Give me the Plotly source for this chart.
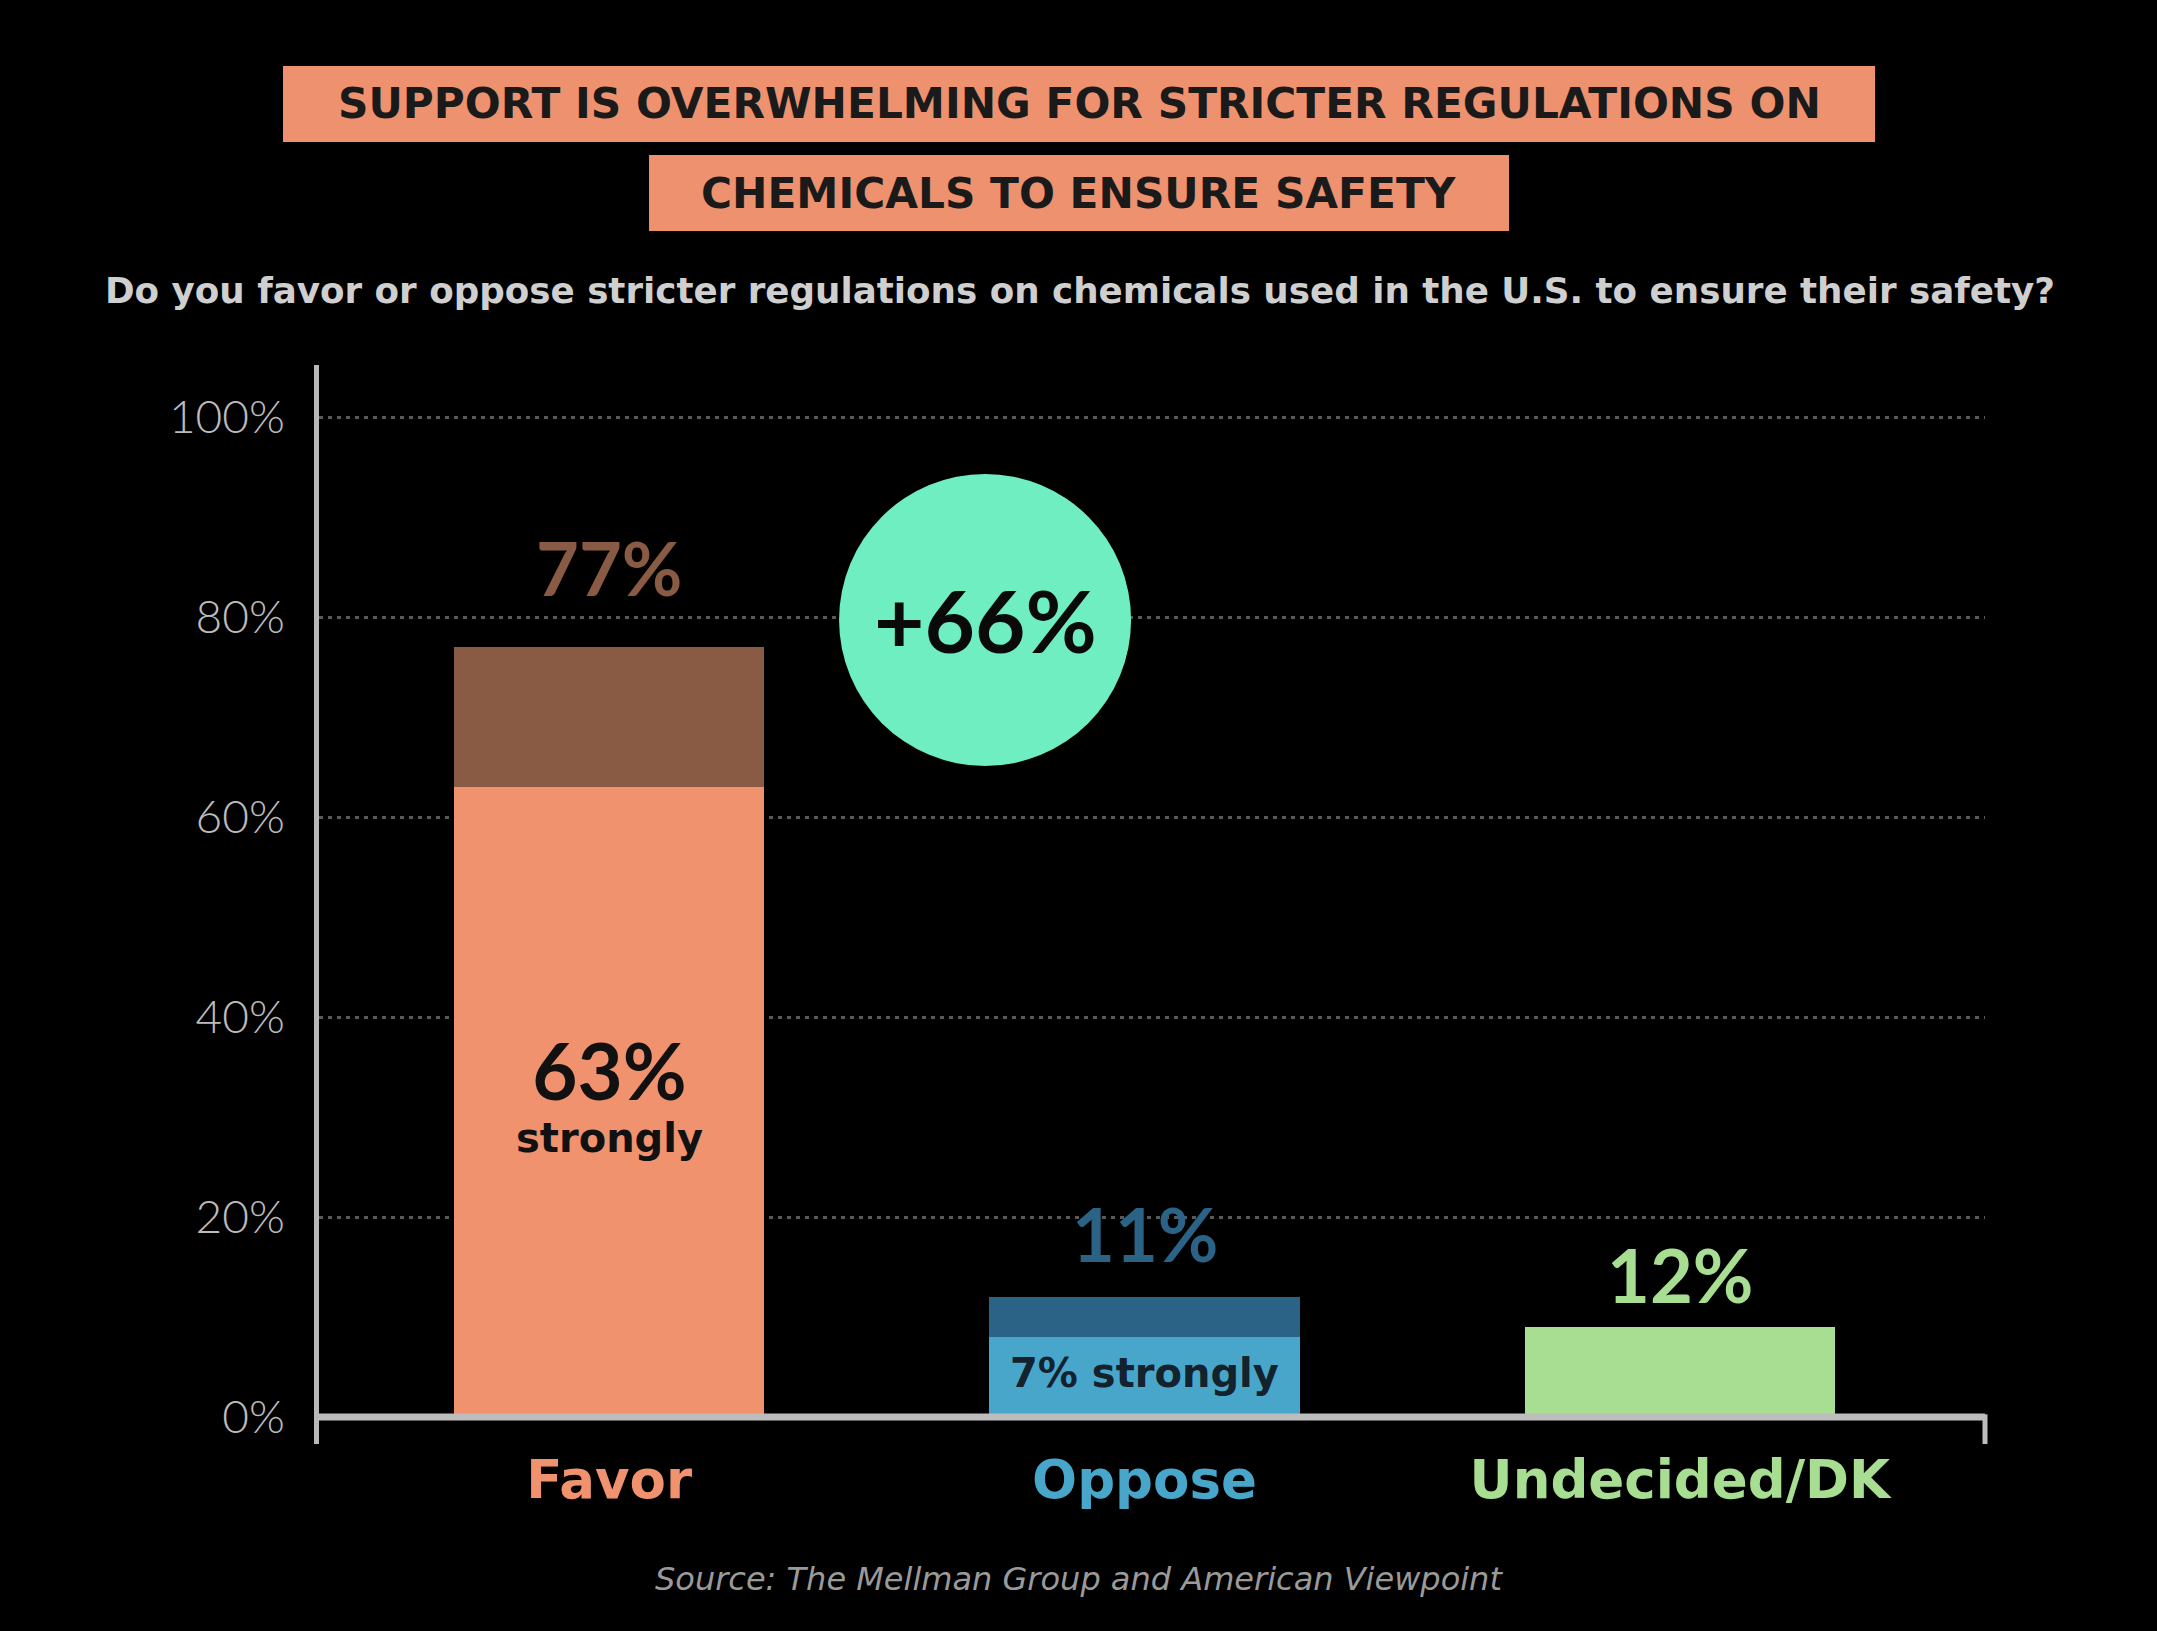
import plotly.graph_objects as go

# values as drawn in the picture (percent of respondents)
categories = ["Favor", "Oppose", "Undecided/DK"]
lower_part = [63, 8, 9]      # "strongly" segment (Undecided has a single segment)
upper_part = [14, 4, 0]      # rest of the total
total_labels = [77, 11, 12]
strongly_labels = [63, 7]
y_ticks = [0, 20, 40, 60, 80, 100]

light_colors = ["#F0926E", "#48A6CB", "#A7DE91"]
dark_colors = ["#8A5B44", "#2A6385", "#A7DE91"]
label_colors = ["#8A5B44", "#2A6385", "#A7DE91"]
cat_colors = ["#F0926E", "#48A6CB", "#A7DE91"]

BOLD = "DejaVu Sans"
NUM = "Lato"

fig = go.Figure()
fig.add_trace(go.Bar(x=categories, y=lower_part, width=0.58,
                     marker=dict(color=light_colors, line=dict(width=0)),
                     hoverinfo="skip"))
fig.add_trace(go.Bar(x=categories, y=upper_part, width=0.58,
                     marker=dict(color=dark_colors, line=dict(width=0)),
                     hoverinfo="skip"))

annotations = []
# totals above bars
shifts = [80, 64, 53]
for i, cat in enumerate(categories):
    annotations.append(dict(
        x=i, y=lower_part[i] + upper_part[i], xref="x", yref="y",
        text=f"{total_labels[i]}%", showarrow=False,
        xanchor="center", yanchor="middle", yshift=shifts[i],
        font=dict(family=NUM, size=74, color=label_colors[i], weight="bold")))

# "strongly" labels inside bars
annotations.append(dict(
    x=0, y=lower_part[0] / 2, xref="x", yref="y", showarrow=False,
    xanchor="center", yanchor="middle", yshift=10,
    text=f"<span style='font-family:{NUM};font-size:78px'>{strongly_labels[0]}%</span>"
         f"<br>strongly",
    font=dict(family=BOLD, size=40, color="#111111", weight="bold")))
annotations.append(dict(
    x=1, y=lower_part[1] / 2, xref="x", yref="y", showarrow=False,
    xanchor="center", yanchor="middle", yshift=4,
    text=f"{strongly_labels[1]}% strongly",
    font=dict(family=BOLD, size=40, color="#13222c", weight="bold")))

# margin bubble
annotations.append(dict(
    x=0.3998, y=0.7637, xref="paper", yref="paper", showarrow=False,
    xanchor="center", yanchor="middle",
    text=f"+{total_labels[0] - total_labels[1]}%",
    font=dict(family=NUM, size=87, color="#0a0a0a", weight="bold")))

# titles
annotations += [
    dict(x=0.4562, y=1.2419, xref="paper", yref="paper", showarrow=False,
         xanchor="center", yanchor="middle",
         text="SUPPORT IS OVERWHELMING FOR STRICTER REGULATIONS ON",
         font=dict(family=BOLD, size=42.3, color="#1a1a1a", weight="bold")),
    dict(x=0.4562, y=1.1594, xref="paper", yref="paper", showarrow=False,
         xanchor="center", yanchor="middle",
         text="CHEMICALS TO ENSURE SAFETY",
         font=dict(family=BOLD, size=42.3, color="#1a1a1a", weight="bold")),
    dict(x=0.4565, y=1.0695, xref="paper", yref="paper", showarrow=False,
         xanchor="center", yanchor="middle",
         text="Do you favor or oppose stricter regulations on chemicals used in the U.S. to ensure their safety?",
         font=dict(family=BOLD, size=35.7, color="#cfcfcf", weight="bold")),
    dict(x=0.4562, y=-0.1251, xref="paper", yref="paper", showarrow=False,
         xanchor="center", yanchor="middle",
         text="<i>Source: The Mellman Group and American Viewpoint</i>",
         font=dict(family="DejaVu Sans", size=32, color="#9a9a9a")),
]

shapes = [
    dict(type="rect", xref="paper", yref="paper", x0=-0.0216, x1=0.934,
         y0=1.2067, y1=1.2771, fillcolor="#EE916F", line=dict(width=0)),
    dict(type="rect", xref="paper", yref="paper", x0=0.1981, x1=0.7143,
         y0=1.1242, y1=1.1946, fillcolor="#EE916F", line=dict(width=0)),
    dict(type="circle", xref="paper", yref="paper", xsizemode="pixel",
         ysizemode="pixel", xanchor=0.3998, yanchor=0.7637,
         x0=-146, x1=146, y0=-146, y1=146, fillcolor="#6FEEC1",
         line=dict(width=0), layer="above"),
    # baseline and right end tick
    dict(type="line", xref="paper", yref="y", x0=0, x1=1, y0=0, y1=0,
         line=dict(color="#bdbdbd", width=7), layer="above"),
    dict(type="line", xref="paper", yref="paper", x0=1, x1=1, y0=0, y1=0.0275,
         line=dict(color="#bdbdbd", width=5), layer="above"),
]

ticktext = [f"<span style='color:{c}'>{t}</span>" for t, c in zip(categories, cat_colors)]

fig.update_layout(
    width=2157, height=1631,
    paper_bgcolor="#000000", plot_bgcolor="#000000",
    margin=dict(l=319, r=172, t=365, b=187),
    barmode="stack", showlegend=False,
    annotations=annotations, shapes=shapes,
)
fig.update_xaxes(range=[-0.542, 2.570], showgrid=False, zeroline=False,
                 showline=False, tickmode="array", tickvals=categories,
                 ticktext=ticktext, ticks="", ticklabelstandoff=0,
                 tickfont=dict(family=BOLD, size=53, weight="bold"))
fig.update_yaxes(range=[-2.7, 105.2], tickmode="array", tickvals=y_ticks,
                 ticktext=[f"{v}%" for v in y_ticks],
                 showgrid=True, gridcolor="#5a5a5a", gridwidth=3,
                 griddash="4px,5px", zeroline=False,
                 showline=True, linecolor="#b8b8b8", linewidth=5,
                 ticks="", ticklabelstandoff=20,
                 tickfont=dict(family=NUM, size=46, color="#bcbcbc", weight=300))

fig.write_html("out.html", config={"displayModeBar": False},
               post_script="document.body.style.margin='0';"
                           "document.body.style.backgroundColor='#000';")
